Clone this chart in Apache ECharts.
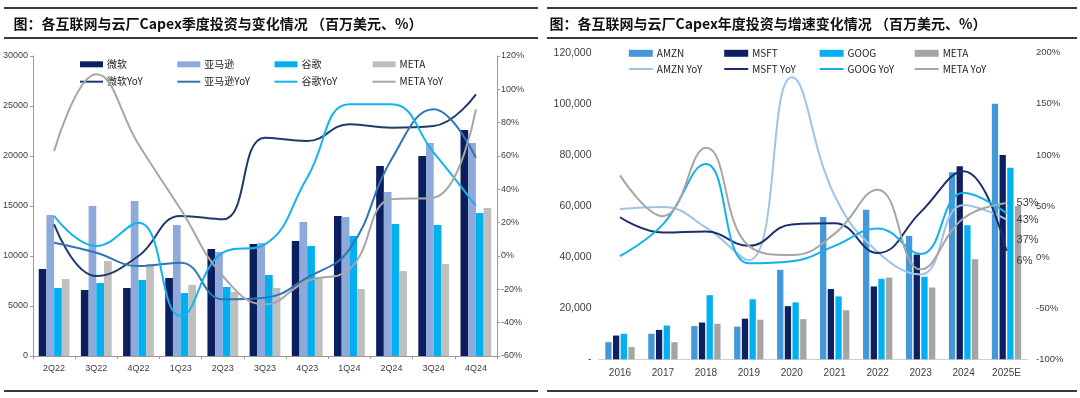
<!DOCTYPE html>
<html>
<head>
<meta charset="utf-8">
<script src="https://cdn.jsdelivr.net/npm/echarts@6/dist/echarts.min.js"></script>
<style>html,body{margin:0;padding:0;background:#fff;}#c{width:1080px;height:398px;}</style>
</head>
<body>
<div id="c"></div>
<script>
// ---------- Left chart (quarterly) ----------
const leftTitle = '图：各互联网与云厂Capex季度投资与变化情况 （百万美元、%）';
const quarters = ['2Q22','3Q22','4Q22','1Q23','2Q23','3Q23','4Q23','1Q24','2Q24','3Q24','4Q24'];
const qBarNames = ['微软','亚马逊','谷歌','META'];
const qLineNames = ['微软YoY','亚马逊YoY','谷歌YoY','META YoY'];
const msftQ = [8700, 6600, 6800, 7800, 10700, 11200, 11500, 14000, 19000, 20000, 22600];
const amznQ = [14100, 15000, 15500, 13100, 10400, 11300, 13400, 13900, 16400, 21300, 21300];
const googQ = [6800, 7300, 7600, 6300, 6900, 8100, 11000, 12000, 13200, 13100, 14300];
const metaQ = [7700, 9500, 9200, 7100, 6400, 6800, 7900, 6700, 8500, 9200, 14800];
const msftQYoY = [19, -12, 0, 24, 22, 71, 69, 79, 77, 78, 97];
const amznQYoY = [8, 2, -6, -4, -26, -25, -13, 4, 58, 88, 59];
const googQYoY = [24, 6, 20, -36, 2, 7, 47, 91, 91, 62, 30];
const metaQYoY = [63, 109, 67, 28, -12, -29, -15, -8, 34, 35, 88];

// ---------- Right chart (annual) ----------
const rightTitle = '图：各互联网与云厂Capex年度投资与增速变化情况 （百万美元、%）';
const years = ['2016','2017','2018','2019','2020','2021','2022','2023','2024','2025E'];
const yBarNames = ['AMZN','MSFT','GOOG','META'];
const yLineNames = ['AMZN YoY','MSFT YoY','GOOG YoY','META YoY'];
const amznY = [6700, 10000, 13000, 12800, 35000, 55700, 58500, 48300, 73200, 100000];
const msftY = [9300, 11500, 14400, 15900, 20800, 27500, 28500, 41000, 75600, 80000];
const googY = [10000, 13200, 25100, 23500, 22300, 24600, 31500, 32300, 52500, 75000];
const metaY = [4800, 6700, 13900, 15500, 15700, 19200, 32000, 28100, 39200, 60000];
const amznYoY = [47, 49, 29, -3, 176, 60, 5, -17, 51, 37];
const msftYoY = [39, 24, 25, 11, 32, 33, 4, 44, 84, 6];
const googYoY = [1, 32, 91, -6, -4, 11, 28, 3, 63, 43];
const metaYoY = [80, 40, 107, 11, 2, 23, 66, -12, 38, 53];

// ---------- styles ----------
const qBarColors = ['#0b1f5e', '#8eaadb', '#00b0f0', '#bfbfbf'];
const qLineColors = ['#1f3a6e', '#2e75b6', '#12b4ee', '#a6a6a6'];
const yBarColors = ['#4597db', '#0d2160', '#00b0f0', '#a5a5a5'];
const yLineColors = ['#9dc3e6', '#1c2f6b', '#12b1ec', '#a6a6a6'];
const endLabelDy = [21, 10, 7, 0];

const chart = echarts.init(document.getElementById('c'), null, {renderer: 'canvas'});
const NUMF = '"Liberation Sans", Arial, sans-serif';
const CJKF = '"Noto Sans CJK SC", sans-serif';

function legendItem(name, x, y, w, h, formatter) {
  const l = {
    data: [name], left: x, top: y - 6, padding: 0, itemWidth: w, itemHeight: h, itemGap: 0,
    selectedMode: false, icon: 'rect',
    textStyle: {fontSize: 10, lineHeight: 12, color: '#222', fontFamily: CJKF, padding: [0, 0, 0, -1]}
  };
  if (formatter) l.formatter = formatter;
  return l;
}

const legends = [];
const qLegX = [80, 177.3, 274.5, 372.6];
qBarNames.forEach((n, i) => legends.push(legendItem(n, qLegX[i], 64.3, 23, 6)));
qLineNames.forEach((n, i) => legends.push(legendItem(n, qLegX[i], 81.7, 23, 2)));
const yLegX = [628.8, 724.2, 819.6, 914.7];
yBarNames.forEach((n, i) => legends.push(legendItem(n + '_R', yLegX[i], 53.3, 24, 7, n)));
yLineNames.forEach((n, i) => legends.push(legendItem(n + '_R', yLegX[i], 69, 24, 2, n)));

const series = [];
[msftQ, amznQ, googQ, metaQ].forEach((d, i) => series.push({
  name: qBarNames[i], type: 'bar', xAxisIndex: 0, yAxisIndex: 0, data: d,
  barWidth: 7.7, barGap: '0%', itemStyle: {color: qBarColors[i]}, z: 2
}));
[msftQYoY, amznQYoY, googQYoY, metaQYoY].forEach((d, i) => series.push({
  name: qLineNames[i], type: 'line', xAxisIndex: 0, yAxisIndex: 1, data: d,
  smooth: 0.45, symbol: 'none', lineStyle: {width: 2, color: qLineColors[i]},
  itemStyle: {color: qLineColors[i]}, z: 5
}));
[amznY, msftY, googY, metaY].forEach((d, i) => series.push({
  name: yBarNames[i] + '_R', type: 'bar', xAxisIndex: 1, yAxisIndex: 2, data: d,
  barWidth: 6.3, barGap: '22%', itemStyle: {color: yBarColors[i]}, z: 2
}));
[amznYoY, msftYoY, googYoY, metaYoY].forEach((d, i) => series.push({
  name: yLineNames[i] + '_R', type: 'line', xAxisIndex: 1, yAxisIndex: 3, data: d,
  smooth: 0.45, symbol: 'none', lineStyle: {width: 2, color: yLineColors[i]},
  itemStyle: {color: yLineColors[i]}, z: 5,
  endLabel: {show: true, formatter: '{c}%', distance: 10, offset: [0, endLabelDy[i]],
    color: '#404040', fontSize: 11, fontFamily: '"Liberation Sans Narrow", ' + NUMF}
}));

function thousands(v) {
  if (v === 0) return '-';
  return String(v).replace(/\B(?=(\d{3})+(?!\d))/g, ',');
}
function plain(v) { return String(v); }

const axisLabelBase = {color: '#404040', fontFamily: NUMF};

const option = {
  animation: false,
  backgroundColor: '#fff',
  graphic: [
    {type: 'line', shape: {x1: 4, y1: 8, x2: 538, y2: 8}, style: {stroke: '#3a3a3a', lineWidth: 2}},
    {type: 'line', shape: {x1: 4, y1: 38, x2: 538, y2: 38}, style: {stroke: '#3a3a3a', lineWidth: 2.2}},
    {type: 'line', shape: {x1: 4, y1: 391, x2: 538, y2: 391}, style: {stroke: '#3a3a3a', lineWidth: 2}},
    {type: 'line', shape: {x1: 547, y1: 8, x2: 1077, y2: 8}, style: {stroke: '#3a3a3a', lineWidth: 2}},
    {type: 'line', shape: {x1: 547, y1: 38, x2: 1077, y2: 38}, style: {stroke: '#3a3a3a', lineWidth: 2.2}},
    {type: 'line', shape: {x1: 547, y1: 391, x2: 1077, y2: 391}, style: {stroke: '#3a3a3a', lineWidth: 2}},
    {type: 'text', style: {x: 13.5, y: 23.5, text: leftTitle, verticalAlign: 'middle',
      font: 'bold 14px "Noto Sans CJK SC", sans-serif', fill: '#111'}},
    {type: 'text', style: {x: 549.5, y: 23.5, text: rightTitle, verticalAlign: 'middle',
      font: 'bold 14px "Noto Sans CJK SC", sans-serif', fill: '#111'}}
  ],
  legend: legends,
  grid: [
    {left: 32.3, top: 56, width: 464.7, height: 300},
    {left: 598.5, top: 52.7, width: 429.5, height: 306.6}
  ],
  xAxis: [
    {type: 'category', gridIndex: 0, data: quarters,
      axisLine: {show: true, lineStyle: {color: '#9a9a9a', width: 1}},
      axisTick: {show: true, length: 3, lineStyle: {color: '#9a9a9a'}},
      axisLabel: Object.assign({fontSize: 9, margin: 8}, axisLabelBase)},
    {type: 'category', gridIndex: 1, data: years,
      axisLine: {show: true, lineStyle: {color: '#d0d0d0', width: 1}},
      axisTick: {show: false},
      axisLabel: Object.assign({fontSize: 10, margin: 9}, axisLabelBase)}
  ],
  yAxis: [
    {type: 'value', gridIndex: 0, min: 0, max: 30000, interval: 5000,
      axisLine: {show: true, lineStyle: {color: '#9a9a9a'}},
      axisTick: {show: true, length: 3, lineStyle: {color: '#9a9a9a'}},
      splitLine: {show: false},
      axisLabel: Object.assign({fontSize: 9, margin: 5, formatter: plain}, axisLabelBase)},
    {type: 'value', gridIndex: 0, position: 'right', min: -60, max: 120, interval: 20,
      axisLine: {show: true, lineStyle: {color: '#9a9a9a'}},
      axisTick: {show: true, length: 3, lineStyle: {color: '#9a9a9a'}},
      splitLine: {show: false},
      axisLabel: Object.assign({fontSize: 9, margin: 4, formatter: '{value}%'}, axisLabelBase)},
    {type: 'value', gridIndex: 1, min: 0, max: 120000, interval: 20000,
      axisLine: {show: false}, axisTick: {show: false}, splitLine: {show: false},
      axisLabel: Object.assign({fontSize: 10.5, margin: 7, formatter: thousands}, axisLabelBase)},
    {type: 'value', gridIndex: 1, position: 'right', min: -100, max: 200, interval: 50,
      axisLine: {show: false}, axisTick: {show: false}, splitLine: {show: false},
      axisLabel: Object.assign({fontSize: 9.5, margin: 8, formatter: '{value}%'}, axisLabelBase)}
  ],
  series: series
};
chart.setOption(option);
</script>
</body>
</html>
